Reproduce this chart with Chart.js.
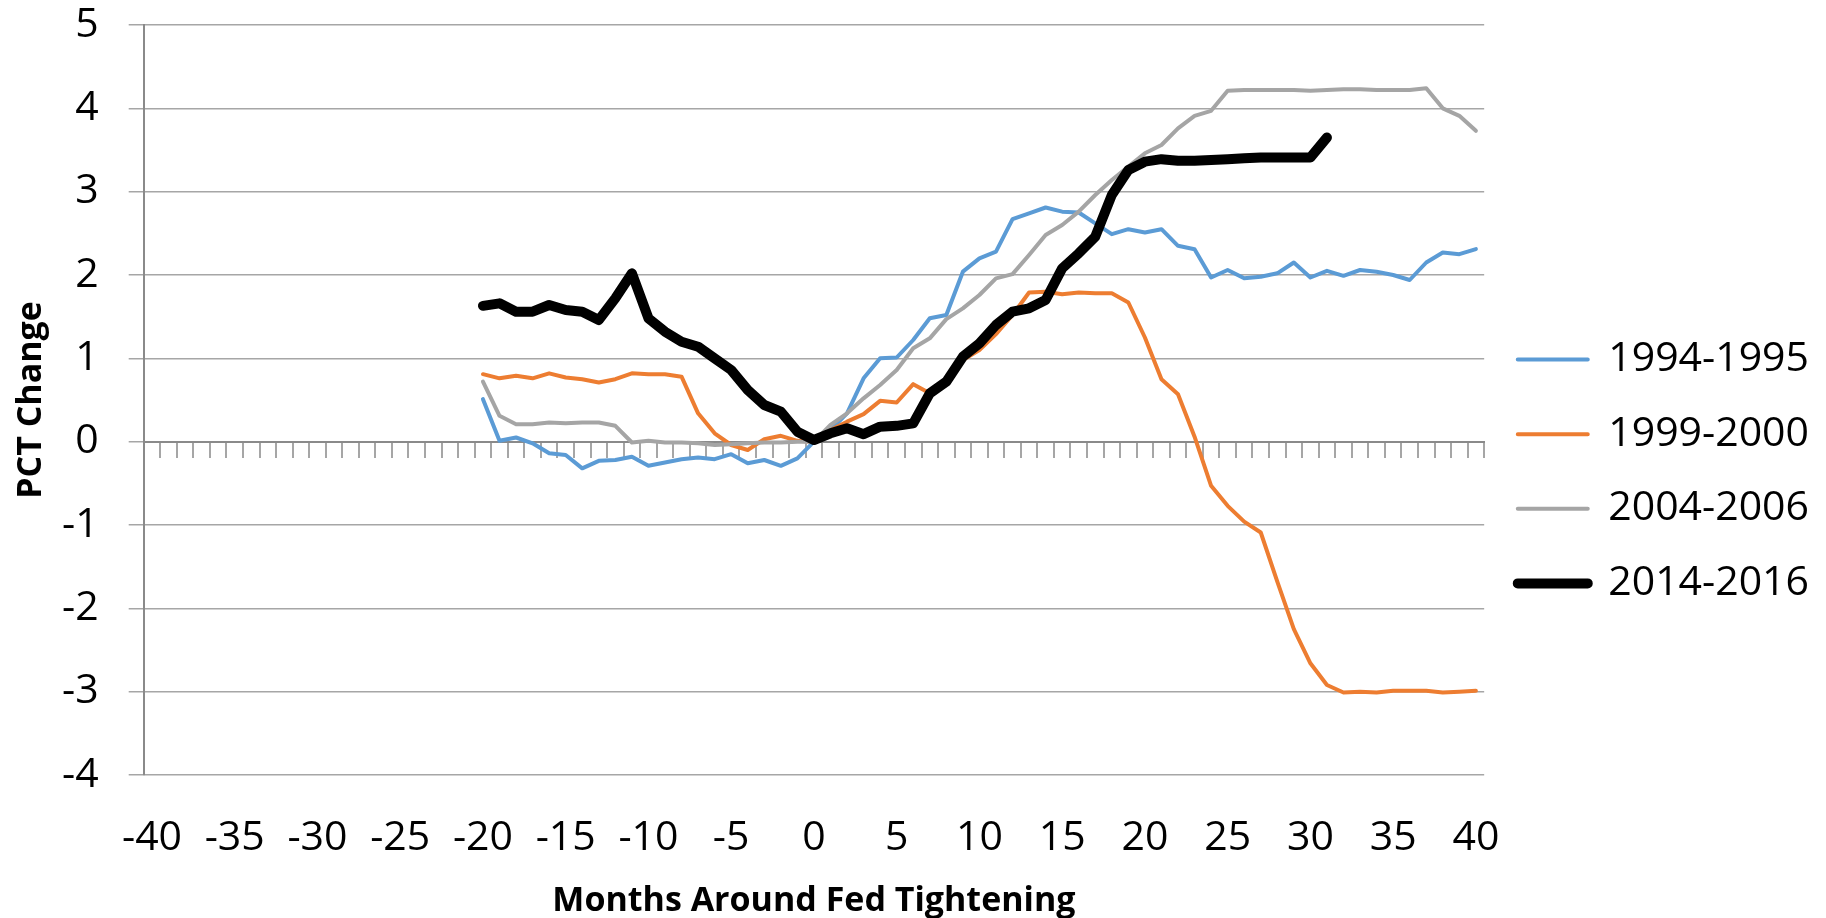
<!DOCTYPE html>
<html>
<head>
<meta charset="utf-8">
<title>Months Around Fed Tightening</title>
<script src="https://cdn.jsdelivr.net/npm/chart.js@4.4.1/dist/chart.umd.min.js"></script>
<style>
    html, body { margin: 0; padding: 0; background: #ffffff; }
    canvas { display: block; }
</style>
</head>
<body>
<canvas id="fedChart" width="1826" height="918"></canvas>
<script>
// Months around the first Fed hike (category axis)
const months = [
    -40, -39, -38, -37, -36, -35, -34, -33, -32, -31,
    -30, -29, -28, -27, -26, -25, -24, -23, -22, -21,
    -20, -19, -18, -17, -16, -15, -14, -13, -12, -11,
    -10, -9, -8, -7, -6, -5, -4, -3, -2, -1,
    0, 1, 2, 3, 4, 5, 6, 7, 8, 9,
    10, 11, 12, 13, 14, 15, 16, 17, 18, 19,
    20, 21, 22, 23, 24, 25, 26, 27, 28, 29,
    30, 31, 32, 33, 34, 35, 36, 37, 38, 39, 40
];
const xTickLabels = [-40, -35, -30, -25, -20, -15, -10, -5, 0, 5, 10, 15, 20, 25, 30, 35, 40];
const yTicks = { min: -4, max: 5, step: 1 };

// every series starts at month -20
const firstMonth = -20;

const cycle1994 = [
    0.51, 0.01, 0.05, -0.02, -0.14, -0.16, -0.32, -0.23, -0.22, -0.18,
    -0.29, -0.25, -0.21, -0.19, -0.21, -0.15, -0.26, -0.22, -0.29, -0.20,
    0.00, 0.14, 0.34, 0.76, 1.00, 1.01, 1.22, 1.48, 1.52, 2.04,
    2.20, 2.28, 2.67, 2.74, 2.81, 2.76, 2.75, 2.62, 2.49, 2.55,
    2.51, 2.55, 2.35, 2.31, 1.97, 2.06, 1.96, 1.98, 2.02, 2.15,
    1.97, 2.05, 1.99, 2.06, 2.04, 2.00, 1.94, 2.15, 2.27, 2.25, 2.31
];
const cycle1999 = [
    0.81, 0.76, 0.79, 0.76, 0.82, 0.77, 0.75, 0.71, 0.75, 0.82,
    0.81, 0.81, 0.78, 0.34, 0.10, -0.04, -0.10, 0.03, 0.07, 0.01,
    0.00, 0.14, 0.24, 0.33, 0.49, 0.47, 0.69, 0.58, 0.74, 0.98,
    1.10, 1.29, 1.52, 1.79, 1.80, 1.77, 1.79, 1.78, 1.78, 1.67,
    1.25, 0.75, 0.57, 0.06, -0.53, -0.77, -0.96, -1.09, -1.68, -2.25,
    -2.66, -2.92, -3.01, -3.00, -3.01, -2.99, -2.99, -2.99, -3.01, -3.00, -2.99
];
const cycle2004 = [
    0.72, 0.31, 0.21, 0.21, 0.23, 0.22, 0.23, 0.23, 0.19, -0.01,
    0.01, -0.01, -0.01, -0.02, -0.04, -0.03, -0.02, -0.01, -0.01, 0.00,
    0.00, 0.20, 0.34, 0.52, 0.68, 0.86, 1.12, 1.24, 1.47, 1.60,
    1.76, 1.96, 2.01, 2.24, 2.48, 2.60, 2.76, 2.96, 3.14, 3.30,
    3.46, 3.56, 3.76, 3.91, 3.97, 4.21, 4.22, 4.22, 4.22, 4.22,
    4.21, 4.22, 4.23, 4.23, 4.22, 4.22, 4.22, 4.24, 4.00, 3.91, 3.73
];
const cycle2014 = [
    1.63, 1.66, 1.56, 1.56, 1.64, 1.58, 1.56, 1.46, 1.72, 2.02,
    1.48, 1.32, 1.20, 1.14, 1.00, 0.86, 0.62, 0.44, 0.36, 0.12,
    0.02, 0.10, 0.16, 0.09, 0.18, 0.19, 0.22, 0.58, 0.72, 1.02,
    1.18, 1.40, 1.56, 1.60, 1.70, 2.08, 2.26, 2.46, 2.96, 3.26,
    3.36, 3.39, 3.37, 3.37, 3.38, 3.39, 3.40, 3.41, 3.41, 3.41,
    3.41, 3.65
];

const gridGrey = '#a6a6a6';
const axisGrey = '#8a8a8a';

// pad the front so values line up with the month labels
function alignToMonths(values) {
    const lead = months.indexOf(firstMonth);
    return new Array(lead).fill(null).concat(values);
}

Chart.defaults.font.family = "'Open Sans', 'Noto Sans', sans-serif";
Chart.defaults.color = '#000000';

const ctx = document.getElementById('fedChart');

new Chart(ctx, {
    type: 'line',
    data: {
        labels: months,
        datasets: [{
            label: '1994-1995',
            data: alignToMonths(cycle1994),
            borderColor: '#5b9bd5',
            backgroundColor: '#5b9bd5',
            borderWidth: 4,
            order: 3
        }, {
            label: '1999-2000',
            data: alignToMonths(cycle1999),
            borderColor: '#ed7d31',
            backgroundColor: '#ed7d31',
            borderWidth: 4,
            order: 2
        }, {
            label: '2004-2006',
            data: alignToMonths(cycle2004),
            borderColor: '#a5a5a5',
            backgroundColor: '#a5a5a5',
            borderWidth: 4,
            order: 1
        }, {
            label: '2014-2016',
            data: alignToMonths(cycle2014),
            borderColor: '#000000',
            backgroundColor: '#000000',
            borderWidth: 10,
            order: 0
        }]
    },
    options: {
        responsive: false,
        animation: false,
        layout: {
            padding: { left: 6, right: 7, top: 25, bottom: 0 }
        },
        elements: {
            line: {
                tension: 0,
                fill: false,
                borderCapStyle: 'round',
                borderJoinStyle: 'round'
            },
            point: { radius: 0, hoverRadius: 0 }
        },
        plugins: {
            legend: {
                position: 'right',
                labels: {
                    boxWidth: 70,
                    boxHeight: 0,
                    padding: 33.6,
                    color: '#000000',
                    font: { size: 41 },
                    sort: (a, b) => a.datasetIndex - b.datasetIndex
                }
            },
            tooltip: { enabled: false }
        },
        scales: {
            x: {
                type: 'category',
                position: 'bottom',
                offset: true,
                grid: { display: false },
                border: { display: false },
                ticks: {
                    autoSkip: false,
                    maxRotation: 0,
                    padding: 30.5,
                    font: { size: 41 },
                    color: '#000000',
                    callback: function (value) {
                        const m = this.getLabelForValue(value);
                        return xTickLabels.includes(m) ? String(m) : null;
                    }
                },
                title: {
                    display: true,
                    text: 'Months Around Fed Tightening',
                    color: '#000000',
                    font: { size: 34, weight: 'bold', lineHeight: 1 },
                    padding: { top: 0, bottom: 0 }
                },
                afterFit: (scale) => { scale.height = 143; }
            },
            // horizontal axis line crossing at 0, with a tick mark per month
            zeroLine: {
                type: 'category',
                axis: 'x',
                position: { y: 0 },
                offset: true,
                grid: {
                    drawOnChartArea: false,
                    offset: true,
                    tickLength: 15,
                    color: gridGrey,
                    lineWidth: 2
                },
                border: { display: true, color: axisGrey, width: 2 },
                ticks: { display: false, autoSkip: false }
            },
            y: {
                min: yTicks.min,
                max: yTicks.max,
                ticks: {
                    stepSize: yTicks.step,
                    padding: 30,
                    font: { size: 41 },
                    color: '#000000'
                },
                grid: { color: gridGrey, lineWidth: 1.5, tickLength: 15 },
                border: { display: true, color: axisGrey, width: 2 },
                title: {
                    display: true,
                    text: 'PCT Change',
                    color: '#000000',
                    font: { size: 34, weight: 'bold' },
                    padding: { top: 4.6, bottom: 0 }
                },
                afterFit: (scale) => {
                    scale.width = 137.7;
                    scale.paddingTop = 0;
                    scale.paddingBottom = 0;
                }
            }
        }
    }
});
</script>
</body>
</html>
